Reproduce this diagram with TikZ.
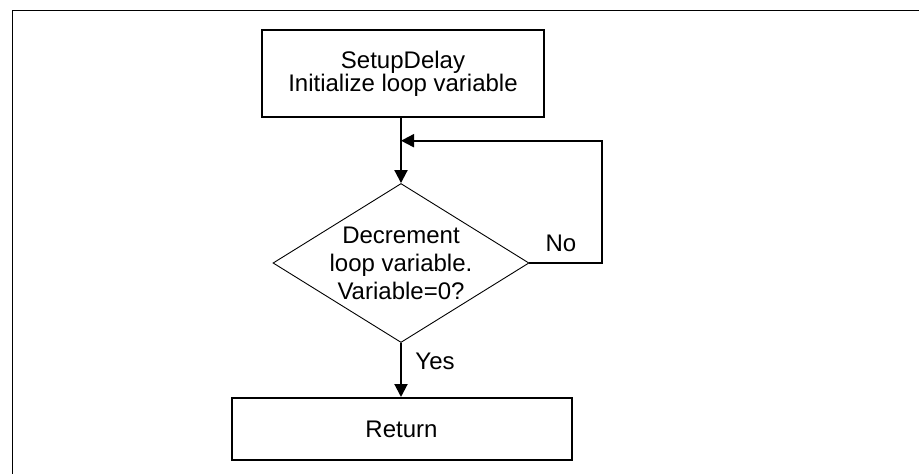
\documentclass[tikz,border=0pt]{standalone}
\usepackage{fontspec}
\setmainfont{Liberation Sans}
\usepackage{tikz}
\usetikzlibrary{shapes.geometric,arrows.meta}

\begin{document}
\begin{tikzpicture}[
    x=1pt, y=-1pt,
    box/.style={rectangle, draw, line width=2pt, inner sep=0pt, align=center, font=\fontsize{24}{21}\selectfont},
    decision/.style={diamond, draw, line width=0.9pt, inner sep=0pt, minimum width=256pt, minimum height=159pt},
    arrow/.style={-{Triangle[length=13pt,width=13pt]}, line width=2pt},
    tag/.style={font=\fontsize{24}{28}\selectfont}
]
\useasboundingbox (0,0) rectangle (919,474);

% Frame
\draw[line width=1pt] (919,10.5) -- (12,10.5) -- (12,474);

% Setup
\node[box, minimum width=282pt, minimum height=87pt] (setup) at (403,73.5) {SetupDelay\\Initialize loop variable};

% Decision
\node[decision, label={[tag, align=center]center:{Decrement\\loop variable.\\Variable=0?}}] (dec) at (401,263) {};

% Return
\node[box, minimum width=340pt, minimum height=62pt] (ret) at (401.5,429) {Return};

% Loop back
\coordinate (loop) at (602,140.7);
\coordinate (join) at (dec.north |- loop);

% Arrows
\draw[arrow] (setup.south -| dec.north) -- (dec.north);
\draw[arrow] (dec.east) -| (loop) -- (join);
\draw[arrow] (dec.south) -- (ret.north -| dec.south);

% Labels
\node[tag] (no) at (561,243) {No};
\node[tag] (yes) at (435,361) {Yes};

\end{tikzpicture}
\end{document}
